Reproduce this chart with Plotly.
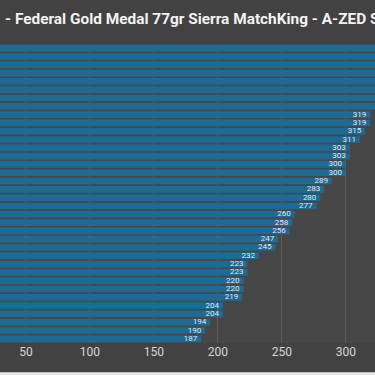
import plotly.graph_objects as go

# Data (top to bottom as shown); the top bars extend past the visible area
shots = [f"#{i}" for i in range(1, 37)]
velocities = [392, 378, 366, 356, 348, 342, 338, 335,
              319, 319, 315, 311, 303, 303, 300, 300,
              289, 283, 280, 277, 260, 258, 256, 247, 245, 232,
              223, 223, 220, 220, 219, 204, 204, 194, 190, 187]
tick_vals = [50, 100, 150, 200, 250, 300]
title_text = "- Federal Gold Medal 77gr Sierra MatchKing - A-ZED Suppressor"

fig = go.Figure()
fig.add_trace(go.Bar(
    y=shots,
    x=velocities,
    orientation="h",
    marker=dict(color="#1d6a94", line=dict(width=0)),
    hoverinfo="x",
))
fig.add_trace(go.Scatter(
    y=shots,
    x=velocities,
    mode="text",
    text=[f"{v}\u00a0\u00a0" for v in velocities],
    textposition="middle left",
    textfont=dict(family="Roboto", size=8, color="#e4e8ec"),
    cliponaxis=False,
    hoverinfo="skip",
))

fig.add_annotation(
    text=title_text, xref="paper", yref="paper", x=3/375, y=1.083,
    xanchor="left", yanchor="middle", showarrow=False,
    font=dict(family="Roboto", size=15.4, color="#f2f2f2", weight="bold"),
)

fig.add_shape(type="rect", xref="paper", yref="paper", x0=-0.1, x1=1.1,
              y0=-0.098, y1=-0.2, fillcolor="#e6e6e6", line_width=0, layer="above")

fig.update_layout(
    width=375, height=375,
    margin=dict(l=0, r=0, t=44, b=32),
    paper_bgcolor="#424242",
    plot_bgcolor="#464646",
    bargap=0.2,
    showlegend=False,
    xaxis=dict(range=[29.7, 322.7], tickvals=tick_vals, showgrid=True,
               gridcolor="#5c5c5c", gridwidth=1, zeroline=False,
               tickfont=dict(family="Roboto", size=12, color="#d6d6d6"),
               showline=False, ticks=""),
    yaxis=dict(range=[35.5, -0.5], showticklabels=False, showgrid=False,
               zeroline=False, ticks=""),
)

fig.write_html(
    "out.html",
    config={"displayModeBar": False},
    post_script="document.body.style.margin='0';document.body.style.overflow='hidden';",
)
